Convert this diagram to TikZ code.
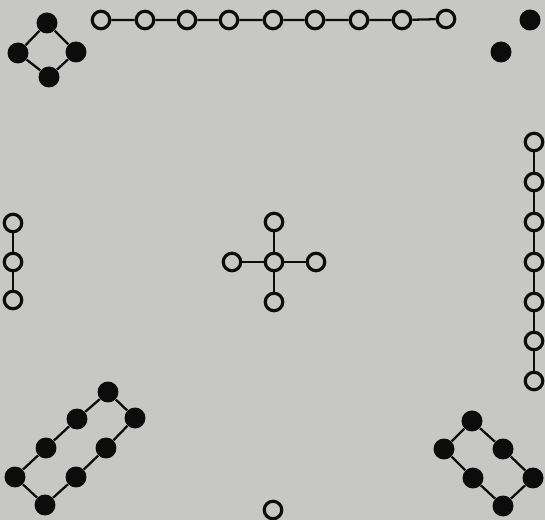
\documentclass[tikz,border=0pt]{standalone}
\usepackage{tikz}

\definecolor{paper}{RGB}{199,199,197}
\definecolor{ink}{RGB}{12,12,12}

\begin{document}
\begin{tikzpicture}[x=0.02cm, y=-0.02cm,
  yang/.style={circle, draw=ink, fill=paper, line width=1.8pt,
    minimum size=0.35cm, inner sep=0pt},
  yin/.style={circle, fill=ink, minimum size=0.42cm, inner sep=0pt},
  link/.style={draw=ink, line width=1.3pt}
 ]
\fill[paper] (0,0) rectangle (545,520);
\useasboundingbox (0,0) rectangle (545,520);

% top left: four
\node[yin] (f1) at (47,23) {};
\node[yin] (f2) at (18,53) {};
\node[yin] (f3) at (76,52) {};
\node[yin] (f4) at (49,77) {};
\draw[link] (f1) -- (f2) -- (f4) -- (f3) -- (f1);

% top: nine
\node[yang] (n1) at (101,20) {};
\node[yang] (n2) at (145,20) {};
\node[yang] (n3) at (187,20) {};
\node[yang] (n4) at (229,20) {};
\node[yang] (n5) at (273,20) {};
\node[yang] (n6) at (315,20) {};
\node[yang] (n7) at (359,20) {};
\node[yang] (n8) at (402,20) {};
\node[yang] (n9) at (446,19) {};
\draw[link] (n1) -- (n2) -- (n3) -- (n4) -- (n5) -- (n6) -- (n7) -- (n8) -- (n9);

% top right: two
\node[yin] (t1) at (530,20) {};
\node[yin] (t2) at (501,52) {};

% left: three
\node[yang] (h1) at (13,223) {};
\node[yang] (h2) at (13,262) {};
\node[yang] (h3) at (13,300) {};
\draw[link] (h1) -- (h2) -- (h3);

% centre: five
\node[yang] (c0) at (274,262) {};
\node[yang] (cn) at (274,222) {};
\node[yang] (cw) at (232,262) {};
\node[yang] (ce) at (316,262) {};
\node[yang] (cs) at (274,302) {};
\draw[link] (cn) -- (c0) -- (cs);
\draw[link] (cw) -- (c0) -- (ce);

% right: seven
\node[yang] (s1) at (534,142) {};
\node[yang] (s2) at (534,182) {};
\node[yang] (s3) at (534,222) {};
\node[yang] (s4) at (534,262) {};
\node[yang] (s5) at (534,302) {};
\node[yang] (s6) at (534,341) {};
\node[yang] (s7) at (534,381) {};
\draw[link] (s1) -- (s2) -- (s3) -- (s4) -- (s5) -- (s6) -- (s7);

% bottom left: eight
\node[yin] (e1) at (108,392) {};
\node[yin] (e2) at (77,419) {};
\node[yin] (e3) at (46,448) {};
\node[yin] (e4) at (15,477) {};
\node[yin] (e5) at (135,418) {};
\node[yin] (e6) at (106,448) {};
\node[yin] (e7) at (76,477) {};
\node[yin] (e8) at (45,505) {};
\draw[link] (e1) -- (e2) -- (e3) -- (e4) -- (e8) -- (e7) -- (e6) -- (e5) -- (e1);

% bottom right: six
\node[yin] (x1) at (472,421) {};
\node[yin] (x2) at (444,449) {};
\node[yin] (x3) at (503,449) {};
\node[yin] (x4) at (473,478) {};
\node[yin] (x5) at (533,478) {};
\node[yin] (x6) at (503,506) {};
\draw[link] (x2) -- (x1) -- (x3) -- (x5) -- (x6) -- (x4) -- (x2);

% bottom: one
\node[yang] (o1) at (273,510) {};
\end{tikzpicture}
\end{document}
